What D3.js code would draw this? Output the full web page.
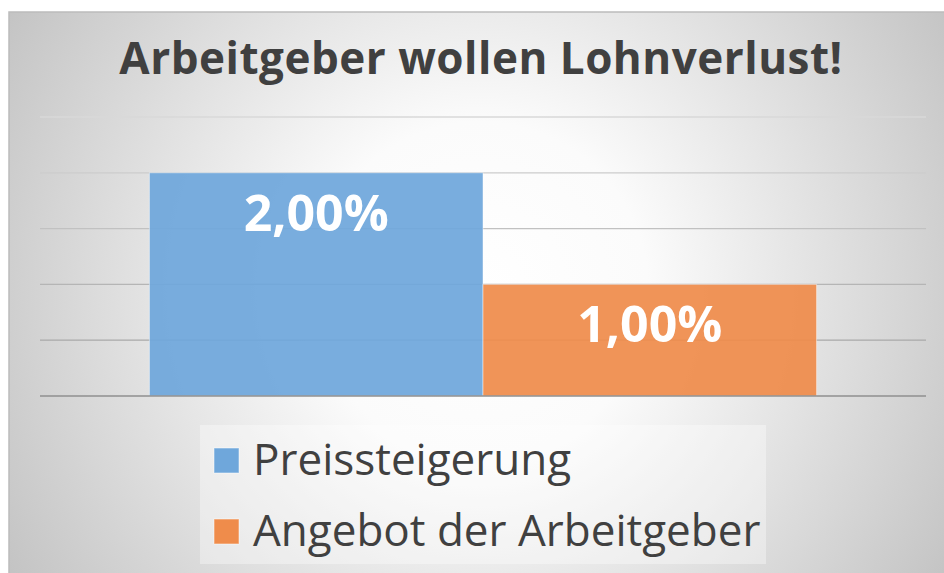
<!DOCTYPE html>
<html>
<head>
<meta charset="utf-8">
<script src="https://cdn.jsdelivr.net/npm/d3@7"></script>
<style>
  html, body { margin: 0; padding: 0; background: #fff; }
  svg { display: block; }
</style>
</head>
<body>
<div id="chart"></div>
<script>
// data
var seriesNames = ["Preissteigerung", "Angebot der Arbeitgeber"];
var seriesValues = [2.0, 1.0];
var seriesColors = ["#6fa7db", "#ef8c4b"];
var yTicks = [0, 0.5, 1.0, 1.5, 2.0, 2.5];
var title = "Arbeitgeber wollen Lohnverlust!";

var W = 944, H = 573;
var frame = {x: 9, y: 12, w: 940, h: 565};
var plot = {left: 40, right: 926, top: 117, bottom: 396};

var svg = d3.select("#chart").append("svg")
    .attr("width", W)
    .attr("height", H);

var defs = svg.append("defs");
var grad = defs.append("radialGradient")
    .attr("id", "bg")
    .attr("gradientUnits", "userSpaceOnUse")
    .attr("cx", 480).attr("cy", 290).attr("r", 560);
grad.append("stop").attr("offset", "0%").attr("stop-color", "#ffffff");
grad.append("stop").attr("offset", "30%").attr("stop-color", "#fbfbfb");
grad.append("stop").attr("offset", "100%").attr("stop-color", "#c2c2c2");

svg.append("rect")
    .attr("x", frame.x).attr("y", frame.y)
    .attr("width", frame.w).attr("height", frame.h)
    .attr("fill", "url(#bg)")
    .attr("stroke", "#bcbcbc")
    .attr("stroke-width", 1.5);

// title
svg.append("text")
    .attr("x", 481).attr("y", 74)
    .attr("text-anchor", "middle")
    .attr("font-family", "'Open Sans', sans-serif")
    .attr("font-weight", 700)
    .attr("font-size", 44)
    .attr("letter-spacing", 0.5)
    .attr("fill", "#404040")
    .text(title);

// scales
var y = d3.scaleLinear()
    .domain([0, d3.max(yTicks)])
    .range([plot.bottom, plot.top]);

var xCat = d3.scaleBand()
    .domain(["cat"])
    .range([plot.left, plot.right])
    .paddingOuter(0.164);

var xSer = d3.scaleBand()
    .domain(seriesNames)
    .range([0, xCat.bandwidth()])
    .padding(0);

// gridlines get darker toward the baseline
var gridColor = d3.scaleLinear()
    .domain([0.5, 2.5])
    .range(["#a9a9a9", "#d8d8d8"]);

svg.append("g")
    .selectAll("line")
    .data(yTicks.filter(function(d) { return d > 0; }))
    .enter().append("line")
    .attr("x1", plot.left).attr("x2", plot.right)
    .attr("y1", function(d) { return y(d); })
    .attr("y2", function(d) { return y(d); })
    .attr("stroke", function(d) { return gridColor(d); })
    .attr("stroke-width", 1.3);

// bars
var bars = svg.append("g");
bars.selectAll("rect")
    .data(seriesNames)
    .enter().append("rect")
    .attr("x", function(d) { return xCat("cat") + xSer(d); })
    .attr("y", function(d, i) { return y(seriesValues[i]); })
    .attr("width", xSer.bandwidth())
    .attr("height", function(d, i) { return y(0) - y(seriesValues[i]); })
    .attr("fill", function(d, i) { return seriesColors[i]; })
    .attr("fill-opacity", 0.93)
    .attr("stroke", "#ffffff")
    .attr("stroke-opacity", 0.45)
    .attr("stroke-width", 1);

// baseline
svg.append("line")
    .attr("x1", plot.left).attr("x2", plot.right)
    .attr("y1", y(0)).attr("y2", y(0))
    .attr("stroke", "#8f8f8f")
    .attr("stroke-width", 1.5);

// value labels
var fmt = function(v) { return d3.format(".2f")(v).replace(".", ",") + "%"; };
bars.selectAll("text")
    .data(seriesNames)
    .enter().append("text")
    .attr("x", function(d) { return xCat("cat") + xSer(d) + xSer.bandwidth() / 2; })
    .attr("y", function(d, i) { return y(seriesValues[i]) + 58; })
    .attr("text-anchor", "middle")
    .attr("font-family", "'Open Sans', sans-serif")
    .attr("font-weight", 700)
    .attr("font-size", 50)
    .attr("fill", "#ffffff")
    .text(function(d, i) { return fmt(seriesValues[i]); });

// legend
var legend = svg.append("g");
legend.append("rect")
    .attr("x", 200).attr("y", 425)
    .attr("width", 566).attr("height", 139)
    .attr("fill", "#ffffff")
    .attr("fill-opacity", 0.35);

var items = legend.selectAll("g.item")
    .data(seriesNames)
    .enter().append("g")
    .attr("class", "item")
    .attr("transform", function(d, i) { return "translate(214," + (448 + i * 71) + ")"; });

items.append("rect")
    .attr("width", 25).attr("height", 25)
    .attr("fill", function(d, i) { return seriesColors[i]; })
    .attr("stroke", "#ffffff")
    .attr("stroke-opacity", 0.5);

items.append("text")
    .attr("x", 39).attr("y", 27)
    .attr("font-family", "'Open Sans', sans-serif")
    .attr("font-size", 44)
    .attr("fill", "#404040")
    .text(function(d) { return d; });
</script>
</body>
</html>
